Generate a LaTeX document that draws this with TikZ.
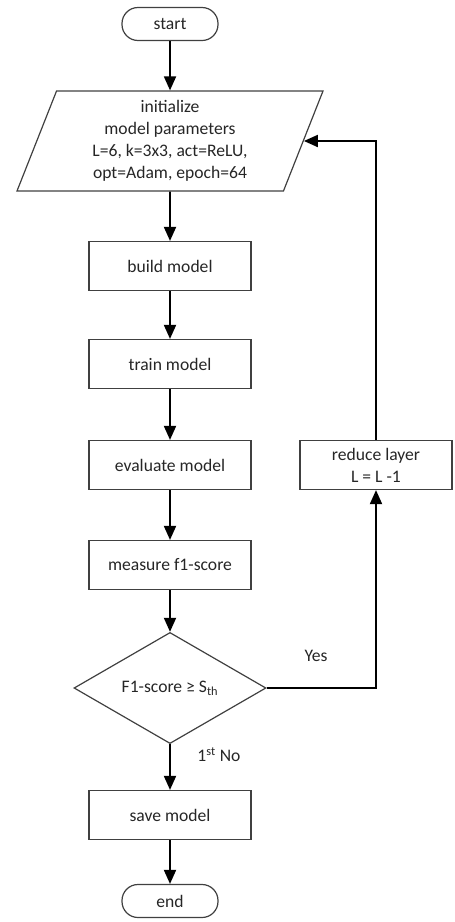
\documentclass[tikz,border=0pt]{standalone}
\usepackage{fontspec}
\setmainfont{Carlito}
\usetikzlibrary{shapes.geometric, arrows.meta}

\begin{document}
\begin{tikzpicture}[x=0.75pt, y=-0.75pt,
    font=\fontsize{13.2}{16.5}\selectfont, text=black!85,
    caja/.style={draw=black!75, line width=0.9pt, minimum width=121.5pt,
        minimum height=36.75pt, align=center},
    terminal/.style={caja, rounded corners=12pt, minimum width=72pt,
        minimum height=24.75pt},
    entrada/.style={caja, trapezium, trapezium left angle=64,
        trapezium right angle=116, trapezium stretches body,
        minimum width=229.5pt, minimum height=75pt, inner sep=0pt},
    decision/.style={caja, diamond, minimum width=144pt,
        minimum height=74.25pt, inner sep=0pt},
    flecha/.style={draw=black, line width=1.4pt,
        -{Triangle[width=9pt, length=10.5pt]}}]

    % Marco del dibujo
    \useasboundingbox (0,0) rectangle (454,922);

    % Inicio y parámetros
    \node[terminal] (start) at (170,24) {start};
    \node[entrada] (init) at (170,141) {initialize\\model parameters\\L=6, k=3x3, act=ReLU,\\opt=Adam, epoch=64};

    % Pasos del entrenamiento
    \foreach \nombre/\y/\texto in {build/266/build model, train/364/train model,
        eval/465/evaluate model, measure/565/measure f1-score, save/815/save model} {
        \node[caja] (\nombre) at (170,\y) {\texto};
    }

    % Condición y fin
    \node[decision] (test) at (170,688) {F1-score ≥ S\textsubscript{th}};
    \node[terminal] (end) at (170,901) {end};
    \node[caja, minimum width=114pt] (reduce) at (376,465) {reduce layer\\L = L -1};

    % Flechas de la columna principal
    \foreach \a/\b in {start/init, init/build, build/train, train/eval,
        eval/measure, measure/test, test/save, save/end} {
        \draw[flecha] (\a.south) -- (\b.north);
    }

    % Lazo de reducción de capas
    \draw[flecha] (test.east) -| (reduce.south);
    \draw[flecha] (reduce.north) |- (init.east);

    % Etiquetas
    \node (yes) at (316,656) {Yes};
    \node (no) at (219,755) {1\textsuperscript{st} No};
\end{tikzpicture}
\end{document}
